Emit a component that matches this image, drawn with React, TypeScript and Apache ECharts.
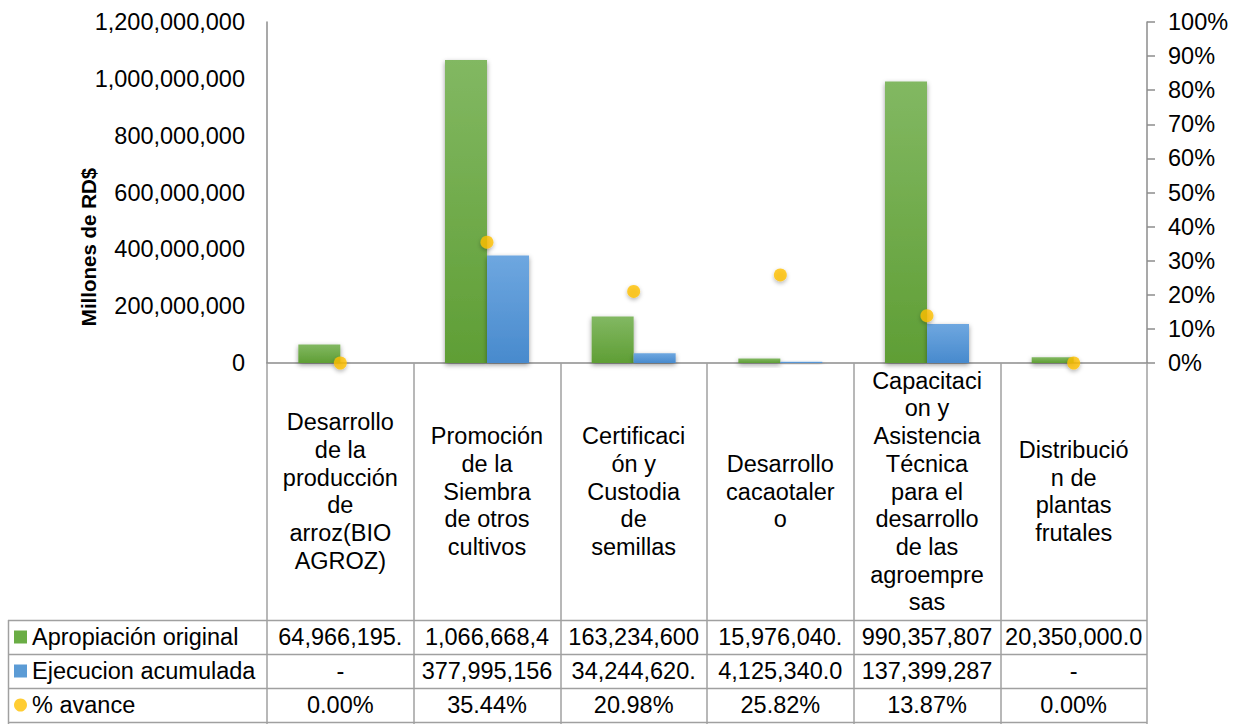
import React, { useEffect, useRef } from "react";
import * as echarts from "echarts";

const categories = [
  "Desarrollo de la producción de arroz(BIO AGROZ)",
  "Promoción de la Siembra de otros cultivos",
  "Certificación y Custodia de semillas",
  "Desarrollo cacaotalero",
  "Capacitacion y Asistencia Técnica para el desarrollo de las agroempresas",
  "Distribución de plantas frutales",
];
const categoryLabels = [
  "Desarrollo\nde la\nproducción\nde\narroz(BIO\nAGROZ)",
  "Promoción\nde la\nSiembra\nde otros\ncultivos",
  "Certificaci\nón y\nCustodia\nde\nsemillas",
  "Desarrollo\ncacaotaler\no",
  "Capacitaci\non y\nAsistencia\nTécnica\npara el\ndesarrollo\nde las\nagroempre\nsas",
  "Distribució\nn de\nplantas\nfrutales",
];
const seriesNames = ["Apropiación original", "Ejecucion acumulada", "% avance"];
const apropiacion = [64966195, 1066668400, 163234600, 15976040, 990357807, 20350000];
const ejecucion = [0, 377995156, 34244620, 4125340, 137399287, 0];
const avance = [0, 0.3544, 0.2098, 0.2582, 0.1387, 0];
const apropiacionLabels = ["64,966,195.", "1,066,668,4", "163,234,600", "15,976,040.", "990,357,807", "20,350,000.0"];
const ejecucionLabels = ["-", "377,995,156", "34,244,620.", "4,125,340.0", "137,399,287", "-"];
const avanceLabels = ["0.00%", "35.44%", "20.98%", "25.82%", "13.87%", "0.00%"];

const FONT = "'Liberation Sans', Arial, sans-serif";
const FS = 23.5;
const GRID_L = 267;
const GRID_R = 1147;
const GRID_T = 22;
const GRID_B = 363;
const ROW_TOP = 620;
const ROW_H = 34;
const LINE = "#a0a0a0";
const AXIS = "#8c8c8c";

export default function App() {
  const ref = useRef<HTMLDivElement>(null);
  useEffect(() => {
    document.body.style.margin = "0";
    const chart = echarts.init(ref.current!, undefined, { renderer: "svg" });
    const rowLabelAxis = (labels: string[], row: number) => ({
      type: "category",
      data: categories,
      position: "bottom",
      axisLine: { show: false },
      axisTick: { show: false },
      axisLabel: {
        interval: 0,
        formatter: (_v: string, i: number) => labels[i],
        margin: ROW_TOP + ROW_H * row + ROW_H / 2 - GRID_B,
        verticalAlign: "middle",
        fontSize: FS,
        fontFamily: FONT,
        color: "#000",
      },
    });
    const hLines = [0, 1, 2, 3].map((r) => ({
      type: "line",
      shape: { x1: 8, y1: ROW_TOP + r * ROW_H + 0.5, x2: GRID_R, y2: ROW_TOP + r * ROW_H + 0.5 },
      style: { stroke: LINE, lineWidth: 1.5 },
      silent: true,
    }));
    chart.setOption({
      animation: false,
      textStyle: { fontFamily: FONT },
      grid: { left: GRID_L, right: 1236 - GRID_R, top: GRID_T, bottom: 724 - GRID_B },
      legend: {
        orient: "vertical",
        left: 14,
        top: ROW_TOP,
        padding: 0,
        itemGap: 0,
        itemWidth: 13,
        itemHeight: 13,
        selectedMode: false,
        textStyle: { fontSize: FS, lineHeight: ROW_H, color: "#000", fontFamily: FONT },
        data: [
          { name: seriesNames[0], icon: "rect", itemStyle: { color: "#6aad45" } },
          { name: seriesNames[1], icon: "rect", itemStyle: { color: "#5b9bd5" } },
          { name: seriesNames[2], icon: "circle", itemStyle: { color: "#FFC000" } },
        ],
      },
      xAxis: [
        {
          type: "category",
          data: categories,
          position: "bottom",
          axisLine: { show: true, lineStyle: { color: AXIS, width: 1.5 } },
          axisTick: { show: true, length: 724 - GRID_B, lineStyle: { color: LINE, width: 1.5 } },
          axisLabel: {
            interval: 0,
            formatter: (_v: string, i: number) => categoryLabels[i],
            margin: (ROW_TOP - GRID_B) / 2,
            verticalAlign: "middle",
            align: "center",
            fontSize: FS,
            lineHeight: 27.7,
            fontFamily: FONT,
            color: "#000",
          },
        },
        rowLabelAxis(apropiacionLabels, 0),
        rowLabelAxis(ejecucionLabels, 1),
        rowLabelAxis(avanceLabels, 2),
      ],
      yAxis: [
        {
          type: "value",
          min: 0,
          max: 1200000000,
          interval: 200000000,
          position: "left",
          splitLine: { show: false },
          axisLine: { show: true, lineStyle: { color: AXIS, width: 1.5 } },
          axisTick: { show: false },
          axisLabel: {
            margin: 22,
            fontSize: FS,
            fontFamily: FONT,
            color: "#000",
            formatter: (v: number) => v.toLocaleString("en-US"),
          },
        },
        {
          type: "value",
          min: 0,
          max: 1,
          interval: 0.1,
          position: "right",
          splitLine: { show: false },
          axisLine: { show: true, lineStyle: { color: AXIS, width: 1.5 } },
          axisTick: { show: true, length: 8, lineStyle: { color: AXIS, width: 1.5 } },
          axisLabel: {
            margin: 21,
            fontSize: FS,
            fontFamily: FONT,
            color: "#000",
            formatter: (v: number) => Math.round(v * 100) + "%",
          },
        },
      ],
      series: [
        {
          name: seriesNames[0],
          type: "bar",
          xAxisIndex: 0,
          yAxisIndex: 0,
          data: apropiacion,
          barWidth: 42,
          barGap: "0%",
          itemStyle: {
            color: new echarts.graphic.LinearGradient(0, 0, 0, 1, [
              { offset: 0, color: "#82b862" },
              { offset: 1, color: "#5f9e35" },
            ]),
            shadowBlur: 5,
            shadowColor: "rgba(0,0,0,0.4)",
            shadowOffsetY: 2,
          },
        },
        {
          name: seriesNames[1],
          type: "bar",
          xAxisIndex: 0,
          yAxisIndex: 0,
          data: ejecucion,
          barWidth: 42,
          barGap: "0%",
          itemStyle: {
            color: new echarts.graphic.LinearGradient(0, 0, 0, 1, [
              { offset: 0, color: "#6ea7e0" },
              { offset: 1, color: "#488acd" },
            ]),
            shadowBlur: 5,
            shadowColor: "rgba(0,0,0,0.4)",
            shadowOffsetY: 2,
          },
        },
        {
          name: seriesNames[2],
          type: "scatter",
          xAxisIndex: 0,
          yAxisIndex: 1,
          data: avance,
          symbol: "circle",
          symbolSize: 13,
          z: 5,
          itemStyle: {
            color: "#FFC000",
            shadowBlur: 4,
            shadowColor: "rgba(0,0,0,0.35)",
            shadowOffsetY: 2,
          },
        },
      ],
      graphic: [
        ...hLines,
        {
          type: "line",
          shape: { x1: 8.5, y1: ROW_TOP, x2: 8.5, y2: 724 },
          style: { stroke: LINE, lineWidth: 1.5 },
          silent: true,
        },
        {
          type: "text",
          x: 88,
          y: 247,
          rotation: Math.PI / 2,
          style: {
            text: "Millones de RD$",
            fontSize: 20.5,
            fontWeight: "bold",
            fontFamily: FONT,
            fill: "#000",
            align: "center",
            verticalAlign: "middle",
          },
        },
      ],
    });
    return () => chart.dispose();
  }, []);
  return <div ref={ref} style={{ width: 1236, height: 724 }} />;
}
